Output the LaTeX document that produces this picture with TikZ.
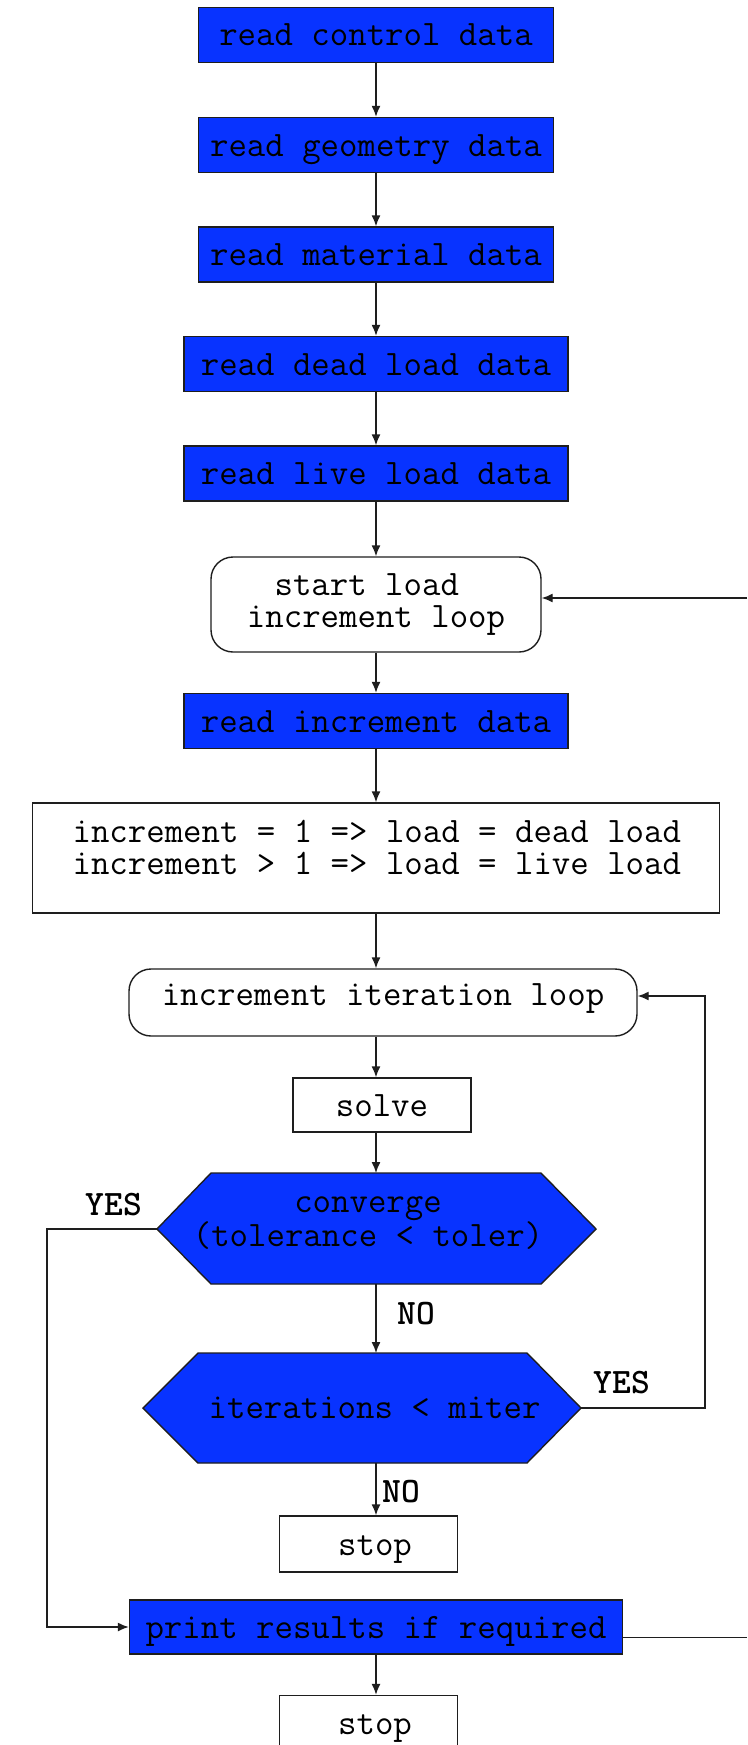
\documentclass[tikz,border=0pt]{standalone}
\usepackage{fontspec}
\usetikzlibrary{arrows.meta}
\definecolor{boxblue}{RGB}{8,51,255}
\definecolor{ink}{RGB}{30,30,30}
\newcommand\tfont{\ttfamily\fontsize{35.8}{32}\selectfont}
\begin{document}
\begin{tikzpicture}[x=1pt,y=-1pt,font=\tfont,
  base/.style={draw=ink,line width=1.4pt,inner sep=0pt,text height=27pt,text depth=5pt},
  bluebox/.style={base,fill=boxblue,minimum height=55pt},
  whitebox/.style={base,fill=white},
  roundbox/.style={whitebox,rounded corners=22pt},
  hexa/.style={draw=ink,line width=1.4pt,fill=boxblue},
  txt/.style={inner sep=0pt,align=center},
  conn/.style={draw=ink,line width=1.4pt},
  arr/.style={conn,-{Latex[length=11pt,width=9pt]}},
  lbl/.style={inner sep=0pt,font=\tfont\bfseries}]
\clip (0,0) rectangle (747,1745);
\fill[white] (0,0) rectangle (747,1745);
% axis and loop columns
\coordinate (ax) at (376,0);
\coordinate (lx) at (47,0);
\coordinate (rx) at (705,0);
% boxes
\node[bluebox,minimum width=355pt] (b1) at (376,35) {read control data};
\node[bluebox,minimum width=355pt] (b2) at (376,145) {read geometry data};
\node[bluebox,minimum width=355pt] (b3) at (376,254.5) {read material data};
\node[bluebox,minimum width=384pt] (b4) at (376,364) {read dead load data};
\node[bluebox,minimum width=384pt] (b5) at (376,473.5) {read live load data};
\node[roundbox,minimum width=330pt,minimum height=95pt,text height=,text depth=,align=center] (sl) at (376,604.5) {start load\hphantom{x}\\increment loop};
\node[bluebox,minimum width=384pt] (ri) at (376,721) {read increment data};
\node[whitebox,minimum width=687pt,minimum height=110pt,text height=,text depth=] (tb) at (376,858) {};
\node[txt] (tbt) at (376.8,847) {increment = 1 => load = dead load\\increment > 1 => load = live load};
\node[roundbox,minimum width=508pt,minimum height=67pt,text height=18pt,text depth=12pt] (il) at (383,1002.5) {increment iteration loop\hspace{14.6pt}};
\node[whitebox,minimum width=178pt,minimum height=54pt] (solve) at (382,1105) {solve\hspace{12.6pt}};
% converge hexagon
\coordinate (cvW) at (157,1229);
\coordinate (cvE) at (596,1229);
\coordinate (cvN) at (376,1173);
\coordinate (cvS) at (376,1284);
\filldraw[hexa] (cvW) -- (211,1173) -- (541,1173) -- (cvE) -- (541,1284) -- (211,1284) -- cycle;
\node[txt] (cv) at (368,1223) {converge\\(tolerance < toler)};
% iterations hexagon
\coordinate (itW) at (143,1408);
\coordinate (itE) at (581,1408);
\coordinate (itN) at (376,1353);
\coordinate (itS) at (376,1463);
\filldraw[hexa] (itW) -- (198,1353) -- (527,1353) -- (itE) -- (527,1463) -- (198,1463) -- cycle;
\node[txt,text height=27pt,text depth=5pt] (it) at (374.6,1407) {iterations < miter};
\node[whitebox,minimum width=178pt,minimum height=56pt] (stopa) at (368.5,1544) {\hspace{13pt}stop};
\node[bluebox,minimum width=493pt,minimum height=54pt] (pr) at (376,1627) {print results if required};
\node[whitebox,minimum width=178pt,minimum height=56pt] (stopb) at (368.5,1723.5) {\hspace{13pt}stop};
% labels
\node[lbl] (yes1) at (114,1204.5) {YES};
\node[lbl] (no1) at (416,1314) {NO};
\node[lbl] (yes2) at (622,1383) {YES};
\node[lbl] (no2) at (401,1492) {NO};
% connectors
\draw[arr] (b1.south) -- (b2.north);
\draw[arr] (b2.south) -- (b3.north);
\draw[arr] (b3.south) -- (b4.north);
\draw[arr] (b4.south) -- (b5.north);
\draw[arr] (b5.south) -- (sl.north);
\draw[arr] (sl.south) -- (ri.north);
\draw[arr] (ri.south) -- (tb.north);
\draw[arr] (tb.south -| ax) -- (il.north -| ax);
\draw[arr] (il.south -| ax) -- (solve.north -| ax);
\draw[arr] (solve.south -| ax) -- (cvN);
\draw[arr] (cvS) -- (itN);
\draw[arr] (itS) -- (stopa.north -| ax);
\draw[arr] (cvW) -- (cvW -| lx) |- (pr.west);
\draw[arr] (itE) -- (itE -| rx) |- ([yshift=6.5pt]il.east);
\draw[arr] (pr.south) -- (stopb.north -| pr.south);
\coordinate (fbR) at (747,598);
\draw[arr] (fbR) -- (fbR -| sl.east);
\coordinate (prR) at (747,1637.6);
\draw[conn] (prR -| pr.east) -- (prR);
\end{tikzpicture}
\end{document}
